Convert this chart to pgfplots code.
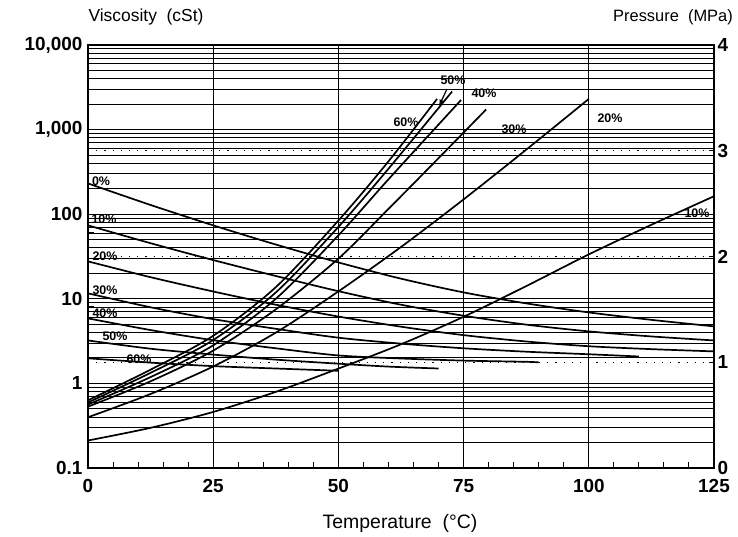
\documentclass[border=0pt]{standalone}
\usepackage{fontspec}
\setmainfont{Liberation Sans}
\usepackage{pgfplots}
\pgfplotsset{compat=1.18}
\tikzset{curve/.style={black, solid, line width=1.7bp, smooth, mark=none}}
\begin{document}
\begin{tikzpicture}[x=1bp,y=1bp]
\useasboundingbox (-88,-69) rectangle (650,468);
\begin{axis}[
  at={(0,0)}, anchor=south west, scale only axis, width=626bp, height=423bp,
  xmin=0, xmax=125, ymode=log, ymin=0.1, ymax=10000,
  xtick={0,25,50,75,100,125}, minor xtick={5,10,...,120},
  ytick={0.1,1,10,100,1000,10000},
  yticklabels={0.1,1,10,100,{1,000},{10,000}},
  minor ytick={0.2,0.3,0.4,0.5,0.6,0.7,0.8,0.9,2,3,4,5,6,7,8,9,20,30,40,50,60,70,80,90,200,300,400,500,600,700,800,900,2000,3000,4000,5000,6000,7000,8000,9000},
  xtick pos=bottom, ytick pos=left, tick align=inside,
  major tick length=0bp, minor tick length=6bp,
  every minor tick/.style={line width=1bp, black},
  xmajorgrids, ymajorgrids, yminorgrids,
  major x grid style={black, line width=1.3bp},
  major y grid style={black, line width=0.9bp},
  minor grid style={black, line width=0.9bp},
  axis line style={line width=1.8bp},
  tick label style={font=\fontsize{19}{19}\selectfont\bfseries},
  /pgf/number format/assume math mode=true,
  yticklabel style={xshift=-2bp},
  xticklabel style={yshift=-8bp},
]
% viscosity curves (cSt)
\addplot[curve] coordinates {(0,231) (12.5,128.5) (25,73.8) (37.5,43.8) (50,26.9) (62.5,17.3) (75,11.9) (87.5,8.83) (100,6.90) (112.5,5.64) (125,4.72)};
\addplot[curve] coordinates {(0,73.8) (12.5,45.4) (25,28.7) (37.5,18.6) (50,12.3) (62.5,8.51) (75,6.31) (87.5,4.95) (100,4.12) (112.5,3.59) (125,3.22)};
\addplot[curve] coordinates {(0,27.7) (12.5,18.0) (25,12.2) (37.5,8.51) (50,6.17) (62.5,4.68) (75,3.72) (87.5,3.13) (100,2.75) (112.5,2.54) (125,2.39)};
\addplot[curve] coordinates {(0,11.6) (12.5,7.94) (25,5.75) (37.5,4.42) (50,3.47) (62.5,2.95) (75,2.60) (87.5,2.37) (100,2.21) (110,2.08)};
\addplot[curve] coordinates {(0,5.87) (12.5,4.27) (25,3.24) (37.5,2.60) (50,2.14) (62.5,1.97) (75,1.86) (87.5,1.80) (90,1.77)};
\addplot[curve] coordinates {(0,3.22) (12.5,2.57) (25,2.19) (37.5,1.91) (50,1.71) (60,1.58) (70,1.50)};
\addplot[curve] coordinates {(0,1.98) (12.5,1.76) (25,1.60) (37.5,1.50) (50,1.41)};
\end{axis}
\begin{axis}[
  at={(0,0)}, anchor=south west, scale only axis, width=626bp, height=423bp,
  xmin=0, xmax=125, ymin=0, ymax=4,
  axis y line*=right, axis x line=none,
  ytick={0,1,2,3,4}, tick align=inside, major tick length=5bp,
  every major tick/.style={line width=1bp, black},
  ymajorgrids,
  major grid style={black, line width=1.2bp, dash pattern=on 1.2bp off 7bp},
  axis line style={line width=1.8bp},
  tick label style={font=\fontsize{19}{19}\selectfont\bfseries},
  /pgf/number format/assume math mode=true,
  yticklabel style={xshift=0bp},
]
% pressure curves (MPa)
\addplot[curve] coordinates {(0,0.26) (12.5,0.38) (25,0.53) (37.5,0.72) (50,0.94) (62.5,1.17) (75,1.43) (87.5,1.72) (100,2.02) (112.5,2.30) (125,2.57)};
\addplot[curve] coordinates {(0,0.48) (12.5,0.70) (25,0.96) (37.5,1.28) (50,1.67) (62.5,2.09) (75,2.54) (87.5,3.01) (100,3.49)};
\addplot[curve] coordinates {(0,0.58) (12.5,0.82) (25,1.11) (37.5,1.50) (50,1.98) (60,2.45) (70,2.93) (79.5,3.39)};
\addplot[curve] coordinates {(0,0.60) (12.5,0.86) (25,1.16) (37.5,1.60) (50,2.20) (60,2.73) (74.5,3.48)};
\addplot[curve] coordinates {(0,0.62) (12.5,0.90) (25,1.21) (37.5,1.66) (50,2.28) (60,2.83) (72.7,3.56)};
\addplot[curve] coordinates {(0,0.64) (12.5,0.93) (25,1.25) (37.5,1.71) (50,2.34) (60,2.90) (69.7,3.49)};
\end{axis}
% titles
\node[font=\fontsize{17.5}{17.5}\selectfont] at (58,451) {Viscosity\ \ (cSt)};
\node[font=\fontsize{16.5}{16.5}\selectfont] at (585,451) {Pressure\ \ (MPa)};
\node[font=\fontsize{19.5}{19.5}\selectfont] at (312,-55) {Temperature\ \ (°C)};
% curve labels
\begin{scope}[every node/.style={font=\fontsize{12.5}{12.5}\selectfont\bfseries, inner sep=0pt}]
\node at (13,287) {0\%};
\node at (16,249) {10\%};
\node at (17,212) {20\%};
\node at (17,178) {30\%};
\node at (17,155) {40\%};
\node at (27,132) {50\%};
\node at (51,109) {60\%};
\node at (318,346) {60\%};
\node at (365,388) {50\%};
\node at (396,375) {40\%};
\node at (426,339) {30\%};
\node at (522,350) {20\%};
\node at (609,255) {10\%};
\end{scope}
\draw[-latex, line width=1.2bp] (359,379) -- (351,362);
\end{tikzpicture}
\end{document}
